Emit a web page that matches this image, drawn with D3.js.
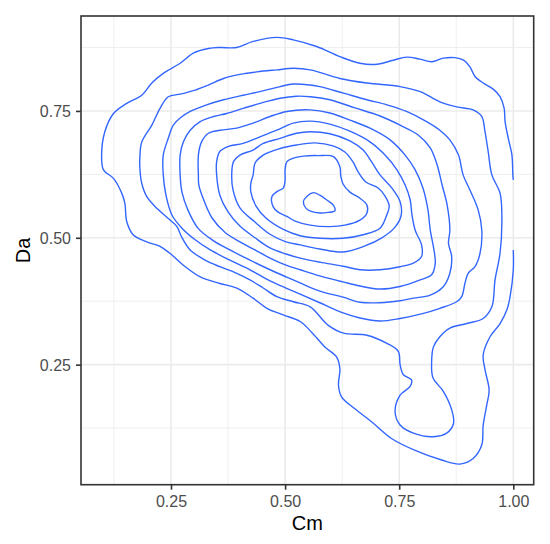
<!DOCTYPE html>
<html><head><meta charset="utf-8">
<script src="https://cdn.jsdelivr.net/npm/d3@7"></script>
<style>body{margin:0;background:#fff} text{font-family:"Liberation Sans",Arial,sans-serif}</style>
</head><body>
<svg id="chart" width="550" height="544"></svg>
<script>
const xTicks=[0.25,0.5,0.75,1.0];
const yTicks=[0.25,0.5,0.75];
const xMinor=[0.125,0.375,0.625,0.875];
const yMinor=[0.125,0.375,0.625,0.875];
const xTickLabels=["0.25","0.50","0.75","1.00"];
const yTickLabels=["0.25","0.50","0.75"];
const xTitle="Cm", yTitle="Da";

// contour levels, outermost (level1, open: clipped at Cm = 1) to innermost
const level1=[[1.000,0.614],[0.999,0.624],[0.997,0.663],[0.989,0.696],[0.982,0.729],[0.980,0.755],[0.971,0.778],[0.956,0.793],[0.934,0.805],[0.916,0.818],[0.905,0.837],[0.891,0.850],[0.872,0.855],[0.847,0.854],[0.821,0.847],[0.796,0.852],[0.766,0.856],[0.737,0.850],[0.701,0.842],[0.664,0.844],[0.620,0.857],[0.569,0.877],[0.518,0.890],[0.482,0.895],[0.430,0.887],[0.394,0.875],[0.357,0.875],[0.332,0.873],[0.299,0.864],[0.270,0.844],[0.233,0.824],[0.208,0.805],[0.186,0.781],[0.153,0.765],[0.124,0.745],[0.105,0.709],[0.098,0.663],[0.102,0.634],[0.124,0.617],[0.142,0.588],[0.149,0.568],[0.153,0.532],[0.167,0.506],[0.197,0.492],[0.226,0.483],[0.252,0.466],[0.277,0.446],[0.314,0.423],[0.357,0.410],[0.394,0.401],[0.430,0.381],[0.460,0.361],[0.496,0.348],[0.533,0.335],[0.558,0.314],[0.587,0.285],[0.613,0.265],[0.620,0.242],[0.617,0.209],[0.624,0.186],[0.653,0.163],[0.690,0.137],[0.734,0.104],[0.785,0.081],[0.843,0.062],[0.883,0.054],[0.912,0.065],[0.931,0.092],[0.934,0.131],[0.942,0.171],[0.947,0.200],[0.938,0.240],[0.934,0.269],[0.949,0.305],[0.971,0.331],[0.986,0.358],[0.993,0.384],[1.000,0.437],[1.000,0.476]];
const level2=[[0.182,0.663],[0.186,0.689],[0.208,0.722],[0.226,0.755],[0.244,0.778],[0.270,0.783],[0.303,0.791],[0.332,0.801],[0.365,0.814],[0.401,0.822],[0.438,0.827],[0.482,0.831],[0.518,0.834],[0.555,0.831],[0.620,0.814],[0.679,0.805],[0.752,0.798],[0.796,0.788],[0.839,0.768],[0.876,0.758],[0.912,0.752],[0.931,0.739],[0.938,0.709],[0.945,0.670],[0.953,0.624],[0.971,0.588],[0.975,0.535],[0.971,0.470],[0.960,0.417],[0.953,0.364],[0.934,0.341],[0.898,0.331],[0.861,0.322],[0.839,0.305],[0.825,0.285],[0.821,0.253],[0.824,0.224],[0.847,0.197],[0.865,0.161],[0.869,0.134],[0.854,0.115],[0.825,0.108],[0.781,0.115],[0.752,0.131],[0.741,0.157],[0.752,0.190],[0.774,0.207],[0.777,0.220],[0.759,0.230],[0.752,0.250],[0.748,0.276],[0.723,0.292],[0.679,0.308],[0.628,0.312],[0.594,0.328],[0.555,0.364],[0.518,0.374],[0.482,0.384],[0.452,0.401],[0.423,0.417],[0.394,0.430],[0.357,0.443],[0.325,0.456],[0.292,0.476],[0.273,0.502],[0.263,0.522],[0.244,0.538],[0.219,0.558],[0.197,0.581],[0.186,0.607],[0.182,0.634]];
const level3=[[0.233,0.624],[0.233,0.663],[0.244,0.696],[0.255,0.722],[0.270,0.736],[0.292,0.749],[0.328,0.762],[0.365,0.772],[0.408,0.781],[0.445,0.788],[0.489,0.798],[0.518,0.803],[0.555,0.801],[0.576,0.798],[0.628,0.785],[0.679,0.772],[0.723,0.762],[0.766,0.749],[0.810,0.729],[0.839,0.712],[0.861,0.693],[0.880,0.663],[0.890,0.624],[0.905,0.594],[0.923,0.555],[0.931,0.515],[0.927,0.469],[0.916,0.443],[0.901,0.430],[0.894,0.410],[0.887,0.384],[0.876,0.374],[0.839,0.361],[0.803,0.351],[0.752,0.341],[0.708,0.336],[0.664,0.342],[0.627,0.352],[0.576,0.372],[0.533,0.389],[0.502,0.401],[0.467,0.415],[0.423,0.437],[0.379,0.456],[0.336,0.476],[0.303,0.496],[0.274,0.519],[0.252,0.545],[0.239,0.584]];
const level4=[[0.270,0.624],[0.270,0.663],[0.277,0.689],[0.292,0.712],[0.314,0.729],[0.343,0.739],[0.372,0.745],[0.408,0.755],[0.445,0.765],[0.489,0.775],[0.525,0.779],[0.555,0.778],[0.598,0.772],[0.653,0.756],[0.708,0.740],[0.752,0.722],[0.791,0.703],[0.818,0.677],[0.833,0.644],[0.844,0.604],[0.855,0.565],[0.861,0.515],[0.858,0.489],[0.865,0.463],[0.861,0.430],[0.847,0.404],[0.818,0.387],[0.781,0.381],[0.752,0.376],[0.708,0.372],[0.664,0.373],[0.627,0.383],[0.576,0.395],[0.533,0.411],[0.502,0.423],[0.467,0.437],[0.423,0.456],[0.379,0.476],[0.340,0.496],[0.309,0.519],[0.287,0.555],[0.274,0.590]];
const level5=[[0.310,0.624],[0.310,0.663],[0.317,0.689],[0.332,0.706],[0.357,0.712],[0.394,0.716],[0.430,0.726],[0.467,0.739],[0.504,0.749],[0.555,0.752],[0.598,0.746],[0.642,0.732],[0.686,0.716],[0.730,0.693],[0.763,0.663],[0.785,0.634],[0.802,0.598],[0.813,0.555],[0.818,0.515],[0.825,0.482],[0.829,0.450],[0.821,0.427],[0.796,0.417],[0.752,0.404],[0.708,0.399],[0.664,0.405],[0.627,0.413],[0.576,0.425],[0.533,0.437],[0.502,0.446],[0.467,0.460],[0.434,0.476],[0.401,0.492],[0.368,0.511],[0.340,0.539],[0.322,0.574],[0.311,0.604]];
const level6=[[0.350,0.624],[0.350,0.650],[0.357,0.670],[0.376,0.680],[0.408,0.686],[0.445,0.699],[0.482,0.712],[0.518,0.726],[0.555,0.730],[0.598,0.724],[0.642,0.710],[0.686,0.689],[0.719,0.663],[0.745,0.634],[0.763,0.604],[0.774,0.575],[0.778,0.545],[0.785,0.515],[0.799,0.486],[0.799,0.463],[0.781,0.450],[0.752,0.443],[0.708,0.437],[0.664,0.437],[0.627,0.444],[0.576,0.452],[0.533,0.460],[0.502,0.468],[0.467,0.480],[0.434,0.500],[0.401,0.523],[0.375,0.551],[0.357,0.584]];
const level7=[[0.383,0.624],[0.387,0.650],[0.401,0.663],[0.430,0.673],[0.452,0.686],[0.489,0.696],[0.525,0.706],[0.555,0.709],[0.598,0.705],[0.642,0.691],[0.671,0.673],[0.690,0.649],[0.708,0.624],[0.734,0.598],[0.752,0.571],[0.754,0.543],[0.739,0.519],[0.712,0.500],[0.675,0.484],[0.627,0.472],[0.576,0.478],[0.533,0.486],[0.502,0.492],[0.467,0.507],[0.434,0.531],[0.401,0.559],[0.386,0.594]];
const level8=[[0.430,0.624],[0.434,0.647],[0.452,0.663],[0.489,0.676],[0.525,0.683],[0.566,0.687],[0.605,0.681],[0.631,0.669],[0.649,0.649],[0.660,0.630],[0.677,0.610],[0.704,0.598],[0.719,0.582],[0.728,0.563],[0.721,0.541],[0.708,0.519],[0.671,0.506],[0.627,0.499],[0.576,0.499],[0.533,0.504],[0.495,0.517],[0.458,0.539],[0.436,0.563],[0.425,0.590],[0.425,0.608]];
const level9=[[0.500,0.634],[0.504,0.650],[0.522,0.658],[0.540,0.661],[0.572,0.662],[0.606,0.660],[0.620,0.640],[0.622,0.622],[0.627,0.606],[0.642,0.590],[0.664,0.578],[0.679,0.565],[0.679,0.548],[0.664,0.535],[0.631,0.525],[0.598,0.522],[0.555,0.525],[0.522,0.533],[0.504,0.542],[0.484,0.551],[0.474,0.561],[0.471,0.581],[0.484,0.592],[0.496,0.598],[0.500,0.614]];
const level10=[[0.540,0.571],[0.548,0.582],[0.562,0.589],[0.576,0.584],[0.592,0.574],[0.606,0.564],[0.609,0.553],[0.594,0.550],[0.576,0.549],[0.557,0.552],[0.546,0.558]];
const openLevels=[level1];
const closedLevels=[level2,level3,level4,level5,level6,level7,level8,level9,level10];

const W=550,H=544;
const L=81,R=533.7,T=16,B=484.7;
const x=d3.scaleLinear().domain([0.0528,1.0447]).range([L,R]);
const y=d3.scaleLinear().domain([0.0134,0.9371]).range([B,T]);
const svg=d3.select("#chart");
svg.append("rect").attr("width",W).attr("height",H).attr("fill","#fff");

const grid=svg.append("g");
grid.selectAll(".xm").data(xMinor).join("line").attr("x1",d=>x(d)).attr("x2",d=>x(d)).attr("y1",T).attr("y2",B).attr("stroke","#EBEBEB").attr("stroke-width",0.8);
grid.selectAll(".ym").data(yMinor).join("line").attr("y1",d=>y(d)).attr("y2",d=>y(d)).attr("x1",L).attr("x2",R).attr("stroke","#EBEBEB").attr("stroke-width",0.8);
grid.selectAll(".xM").data(xTicks).join("line").attr("x1",d=>x(d)).attr("x2",d=>x(d)).attr("y1",T).attr("y2",B).attr("stroke","#EBEBEB").attr("stroke-width",1.6);
grid.selectAll(".yM").data(yTicks).join("line").attr("y1",d=>y(d)).attr("y2",d=>y(d)).attr("x1",L).attr("x2",R).attr("stroke","#EBEBEB").attr("stroke-width",1.6);

svg.append("clipPath").attr("id","clip").append("rect").attr("x",L).attr("y",T).attr("width",R-L).attr("height",B-T);
const cg=svg.append("g").attr("clip-path","url(#clip)");
const lineOpen=d3.line().x(d=>x(d[0])).y(d=>y(d[1])).curve(d3.curveCatmullRom.alpha(0.5));
const lineClosed=d3.line().x(d=>x(d[0])).y(d=>y(d[1])).curve(d3.curveCatmullRomClosed.alpha(0.5));
cg.selectAll(".open").data(openLevels).join("path").attr("d",lineOpen).attr("fill","none").attr("stroke","#3366FF").attr("stroke-width",1.4);
cg.selectAll(".closed").data(closedLevels).join("path").attr("d",lineClosed).attr("fill","none").attr("stroke","#3366FF").attr("stroke-width",1.4);

svg.append("rect").attr("x",L).attr("y",T).attr("width",R-L).attr("height",B-T).attr("fill","none").attr("stroke","#333333").attr("stroke-width",1.6);

const xa=svg.append("g").attr("transform",`translate(0,${B})`)
  .call(d3.axisBottom(x).tickValues(xTicks).tickFormat((d,i)=>xTickLabels[i]).tickSize(5).tickPadding(4));
const ya=svg.append("g").attr("transform",`translate(${L},0)`)
  .call(d3.axisLeft(y).tickValues(yTicks).tickFormat((d,i)=>yTickLabels[i]).tickSize(5).tickPadding(5));
[xa,ya].forEach(a=>{
  a.select(".domain").remove();
  a.selectAll(".tick line").attr("stroke","#333333").attr("stroke-width",1.6);
  a.selectAll(".tick text").attr("fill","#4D4D4D").attr("font-size","16px").attr("font-family","Liberation Sans, Arial, sans-serif");
});
xa.selectAll(".tick text").attr("dy",null).attr("y",22);
ya.selectAll(".tick text").attr("dy","0.36em");

svg.append("text").attr("x",(L+R)/2).attr("y",530).attr("text-anchor","middle").attr("font-size","20px").attr("fill","#000").text(xTitle);
svg.append("text").attr("transform",`translate(30,${(T+B)/2}) rotate(-90)`).attr("text-anchor","middle").attr("font-size","20px").attr("fill","#000").text(yTitle);
</script>
</body></html>
